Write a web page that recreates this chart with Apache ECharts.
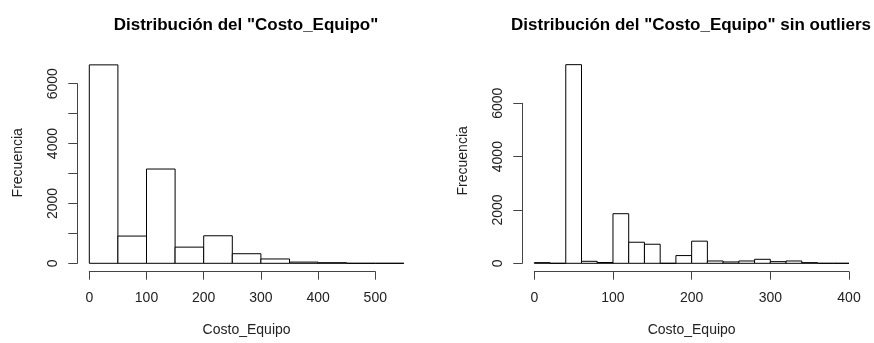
<!DOCTYPE html>
<html>
<head>
<meta charset="utf-8">
<script src="https://cdn.jsdelivr.net/npm/echarts@6/dist/echarts.min.js"></script>
<style>
  html, body { margin: 0; padding: 0; background: #fff; }
  #chart { width: 874px; height: 343px; }
</style>
</head>
<body>
<div id="chart"></div>
<script>
// histograma izquierdo: cortes cada 50
var binsLeft = [0, 50, 100, 150, 200, 250, 300, 350, 400, 450, 500];
var countsLeft = [6630, 910, 3150, 540, 920, 320, 145, 40, 20, 0, 0];
var widthLeft = 50;

// histograma derecho (sin outliers): cortes cada 20
var binsRight = [0, 20, 40, 60, 80, 100, 120, 140, 160, 180, 200, 220, 240, 260, 280, 300, 320, 340, 360, 380];
var countsRight = [25, 0, 7450, 75, 30, 1860, 790, 715, 0, 290, 830, 87, 50, 87, 150, 62, 87, 25, 0, 0];
var widthRight = 20;

var xTicksLeft = [0, 500, 100];   // min, max, paso
var xTicksRight = [0, 400, 100];
var yTicksLeft = [0, 6000, 1000];
var yTicksRight = [0, 6000, 2000];

var FONT = 'Liberation Sans, Arial, sans-serif';
var lineCol = '#444';

function histData(bins, counts, w) {
  return bins.map(function (b, i) { return [b, b + w, counts[i]]; });
}

function renderBar(params, api) {
  var p0 = api.coord([api.value(0), 0]);
  var p1 = api.coord([api.value(1), api.value(2)]);
  return {
    type: 'rect',
    shape: { x: p0[0], y: p1[1], width: p1[0] - p0[0], height: p0[1] - p1[1] },
    style: { fill: '#fff', stroke: '#000', lineWidth: 1 }
  };
}

var hidden = { show: false };
function hiddenAxis(grid, min, max) {
  return { type: 'value', gridIndex: grid, min: min, max: max, show: false };
}
// solo etiquetas cada 2000
function yLabel(v) { return v % 2000 === 0 ? String(v) : ''; }

var chartObj = echarts.init(document.getElementById('chart'));

var option = {
  animation: false,
  backgroundColor: '#fff',
  title: [
    { text: 'Distribución del "Costo_Equipo"', left: 241, top: 12, textAlign: 'center',
      textStyle: { fontFamily: FONT, fontSize: 17, fontWeight: 'bold', color: '#000' } },
    { text: 'Distribución del "Costo_Equipo" sin outliers', left: 686, top: 12, textAlign: 'center',
      textStyle: { fontFamily: FONT, fontSize: 17, fontWeight: 'bold', color: '#000' } }
  ],
  grid: [
    // izquierda: barras, eje x, eje y
    { left: 89.3, width: 314.6, top: 53.8, height: 209.5 },
    { left: 89.3, width: 286, top: 53.8, height: 217.9 },
    { left: 77.3, width: 10, top: 83.7, height: 179.6 },
    // derecha
    { left: 534.3, width: 314.7, top: 50, height: 213.3 },
    { left: 534.3, width: 314.7, top: 50, height: 221.7 },
    { left: 522.3, width: 10, top: 103.3, height: 160 }
  ],
  xAxis: [
    { type: 'value', gridIndex: 0, min: 0, max: 550, name: 'Costo_Equipo',
      nameLocation: 'middle', nameGap: 60,
      nameTextStyle: { fontFamily: FONT, fontSize: 14, color: '#222' },
      axisLine: hidden, axisTick: hidden, axisLabel: hidden, splitLine: hidden },
    { type: 'value', gridIndex: 1, min: xTicksLeft[0], max: xTicksLeft[1], interval: xTicksLeft[2],
      axisLine: { show: true, lineStyle: { color: lineCol, width: 1 } },
      axisTick: { show: true, length: 8, lineStyle: { color: lineCol } },
      axisLabel: { margin: 19, fontFamily: FONT, fontSize: 14, color: '#222' },
      splitLine: hidden },
    hiddenAxis(2, 0, 1),
    { type: 'value', gridIndex: 3, min: 0, max: 400, name: 'Costo_Equipo',
      nameLocation: 'middle', nameGap: 60,
      nameTextStyle: { fontFamily: FONT, fontSize: 14, color: '#222' },
      axisLine: hidden, axisTick: hidden, axisLabel: hidden, splitLine: hidden },
    { type: 'value', gridIndex: 4, min: xTicksRight[0], max: xTicksRight[1], interval: xTicksRight[2],
      axisLine: { show: true, lineStyle: { color: lineCol, width: 1 } },
      axisTick: { show: true, length: 8, lineStyle: { color: lineCol } },
      axisLabel: { margin: 19, fontFamily: FONT, fontSize: 14, color: '#222' },
      splitLine: hidden },
    hiddenAxis(5, 0, 1)
  ],
  yAxis: [
    hiddenAxis(0, 0, 7000),
    { type: 'value', gridIndex: 1, min: 0, max: 1, name: 'Frecuencia',
      nameLocation: 'middle', nameGap: 64, nameRotate: 90,
      nameTextStyle: { fontFamily: FONT, fontSize: 14, color: '#222' },
      axisLine: hidden, axisTick: hidden, axisLabel: hidden, splitLine: hidden },
    { type: 'value', gridIndex: 2, min: yTicksLeft[0], max: yTicksLeft[1], interval: yTicksLeft[2],
      axisLine: { show: true, lineStyle: { color: lineCol, width: 1 } },
      axisTick: { show: true, length: 9, lineStyle: { color: lineCol } },
      axisLabel: { rotate: 90, margin: 17, fontFamily: FONT, fontSize: 14, color: '#222', formatter: yLabel },
      splitLine: hidden },
    hiddenAxis(3, 0, 8000),
    { type: 'value', gridIndex: 4, min: 0, max: 1, name: 'Frecuencia',
      nameLocation: 'middle', nameGap: 64, nameRotate: 90,
      nameTextStyle: { fontFamily: FONT, fontSize: 14, color: '#222' },
      axisLine: hidden, axisTick: hidden, axisLabel: hidden, splitLine: hidden },
    { type: 'value', gridIndex: 5, min: yTicksRight[0], max: yTicksRight[1], interval: yTicksRight[2],
      axisLine: { show: true, lineStyle: { color: lineCol, width: 1 } },
      axisTick: { show: true, length: 9, lineStyle: { color: lineCol } },
      axisLabel: { rotate: 90, margin: 17, fontFamily: FONT, fontSize: 14, color: '#222', formatter: yLabel },
      splitLine: hidden }
  ],
  series: [
    { type: 'custom', xAxisIndex: 0, yAxisIndex: 0, renderItem: renderBar,
      data: histData(binsLeft, countsLeft, widthLeft), clip: false },
    { type: 'custom', xAxisIndex: 3, yAxisIndex: 3, renderItem: renderBar,
      data: histData(binsRight, countsRight, widthRight), clip: false }
  ]
};

chartObj.setOption(option);
</script>
</body>
</html>
